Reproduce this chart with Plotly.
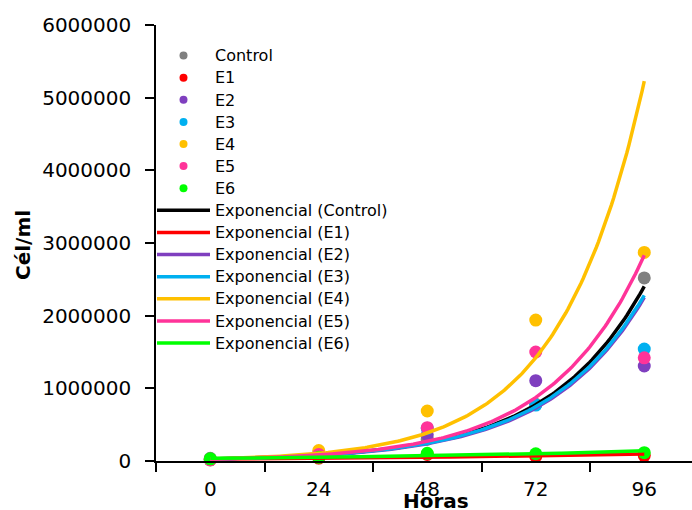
import numpy as np
import plotly.graph_objects as go

# Cell counts (cells/ml) sampled every 24 h
hours = [0, 24, 48, 72, 96]
control = [36500, 45000, 300000, 780000, 2520000]
e1 = [20000, 40000, 90000, 65000, 75000]
e2 = [17000, 84000, 360000, 1105000, 1307000]
e3 = [15800, 104000, 450000, 770000, 1540000]
e4 = [15700, 143000, 688000, 1940000, 2870000]
e5 = [16200, 90600, 458000, 1500000, 1420000]
e6 = [30000, 50000, 105000, 100000, 115000]

series_names = ["Control", "E1", "E2", "E3", "E4", "E5", "E6"]
series_values = [control, e1, e2, e3, e4, e5, e6]
point_colors = ["#808080", "#FF0000", "#7F3FBF", "#00B0F0", "#FFC000", "#FF3399", "#00FF00"]
line_colors = ["#000000", "#FF0000", "#7F3FBF", "#00B0F0", "#FFC000", "#FF3399", "#00FF00"]

y_ticks = [0, 1000000, 2000000, 3000000, 4000000, 5000000, 6000000]
x_labels = ["0", "24", "48", "72", "96"]
x_minor_ticks = [-12, 12, 36, 60, 84]

FONT = "DejaVu Sans"
W, H = 692, 510
L, R, T, B = 156, 0, 25, 49
plot_w = W - L - R
plot_h = H - T - B


def px_x(px):
    return (px - L) / plot_w


def px_y(py):
    return (H - B - py) / plot_h


def legend_label(s):
    return f'<span style="font-size:16px">{s}</span>'


fig = go.Figure()

# legend entries for the point series (smaller symbols than the plotted dots)
for name, col in zip(series_names, point_colors):
    fig.add_trace(go.Scatter(
        x=[None], y=[None], mode="markers", name=legend_label(name),
        marker=dict(color=col, size=8),
    ))

# measured points
for name, vals, col in zip(series_names, series_values, point_colors):
    fig.add_trace(go.Scatter(
        x=hours, y=vals, mode="markers", name=name, showlegend=False,
        marker=dict(color=col, size=13), cliponaxis=False,
    ))

# exponential trendlines fitted on ln(y)
t_fine = np.linspace(0, 96, 200)
t_arr = np.array(hours, dtype=float)
for name, vals, col in zip(series_names, series_values, line_colors):
    b, ln_a = np.polyfit(t_arr, np.log(np.array(vals, dtype=float)), 1)
    fig.add_trace(go.Scatter(
        x=t_fine, y=np.exp(ln_a + b * t_fine), mode="lines",
        name=legend_label(f"Exponencial ({name})"),
        line=dict(color=col, width=3.5), cliponaxis=False,
    ))

fig.update_layout(
    width=W, height=H,
    margin=dict(l=L, r=R, t=T, b=B),
    paper_bgcolor="white", plot_bgcolor="white",
    font=dict(family=FONT, size=20, color="black"),
    showlegend=True,
    legend=dict(
        x=px_x(152), y=px_y(39.5), xanchor="left", yanchor="top",
        font=dict(family=FONT, size=14.7, color="black"),
        bgcolor="rgba(0,0,0,0)", traceorder="normal",
        itemwidth=53,
    ),
    xaxis=dict(
        range=[-12, 106.56], showgrid=False, zeroline=False,
        showline=True, linecolor="black", linewidth=1.5,
        tickvals=hours, ticktext=x_labels, ticks="",
        ticklabelstandoff=9, tickfont=dict(family=FONT, size=20, color="black"),
        minor=dict(tickvals=x_minor_ticks, ticks="outside", ticklen=9,
                   tickwidth=1.5, tickcolor="black", showgrid=False),
    ),
    yaxis=dict(
        range=[0, 6000000], showgrid=False, zeroline=False,
        showline=True, linecolor="black", linewidth=1.5,
        tickvals=y_ticks, ticktext=[str(v) for v in y_ticks],
        ticks="outside", ticklen=9, tickwidth=1.5, tickcolor="black",
        ticklabelstandoff=10, tickfont=dict(family=FONT, size=20, color="black"),
    ),
    annotations=[
        dict(text="<b>Horas</b>", xref="paper", yref="paper",
             x=px_x(436), y=px_y(501), xanchor="center", yanchor="middle",
             showarrow=False, font=dict(family=FONT, size=20, color="black")),
        dict(text="<b>Cél/ml</b>", xref="paper", yref="paper",
             x=px_x(23), y=px_y(245), xanchor="center", yanchor="middle",
             textangle=-90, showarrow=False,
             font=dict(family=FONT, size=20, color="black")),
    ],
)

fig.write_html("out.html")
